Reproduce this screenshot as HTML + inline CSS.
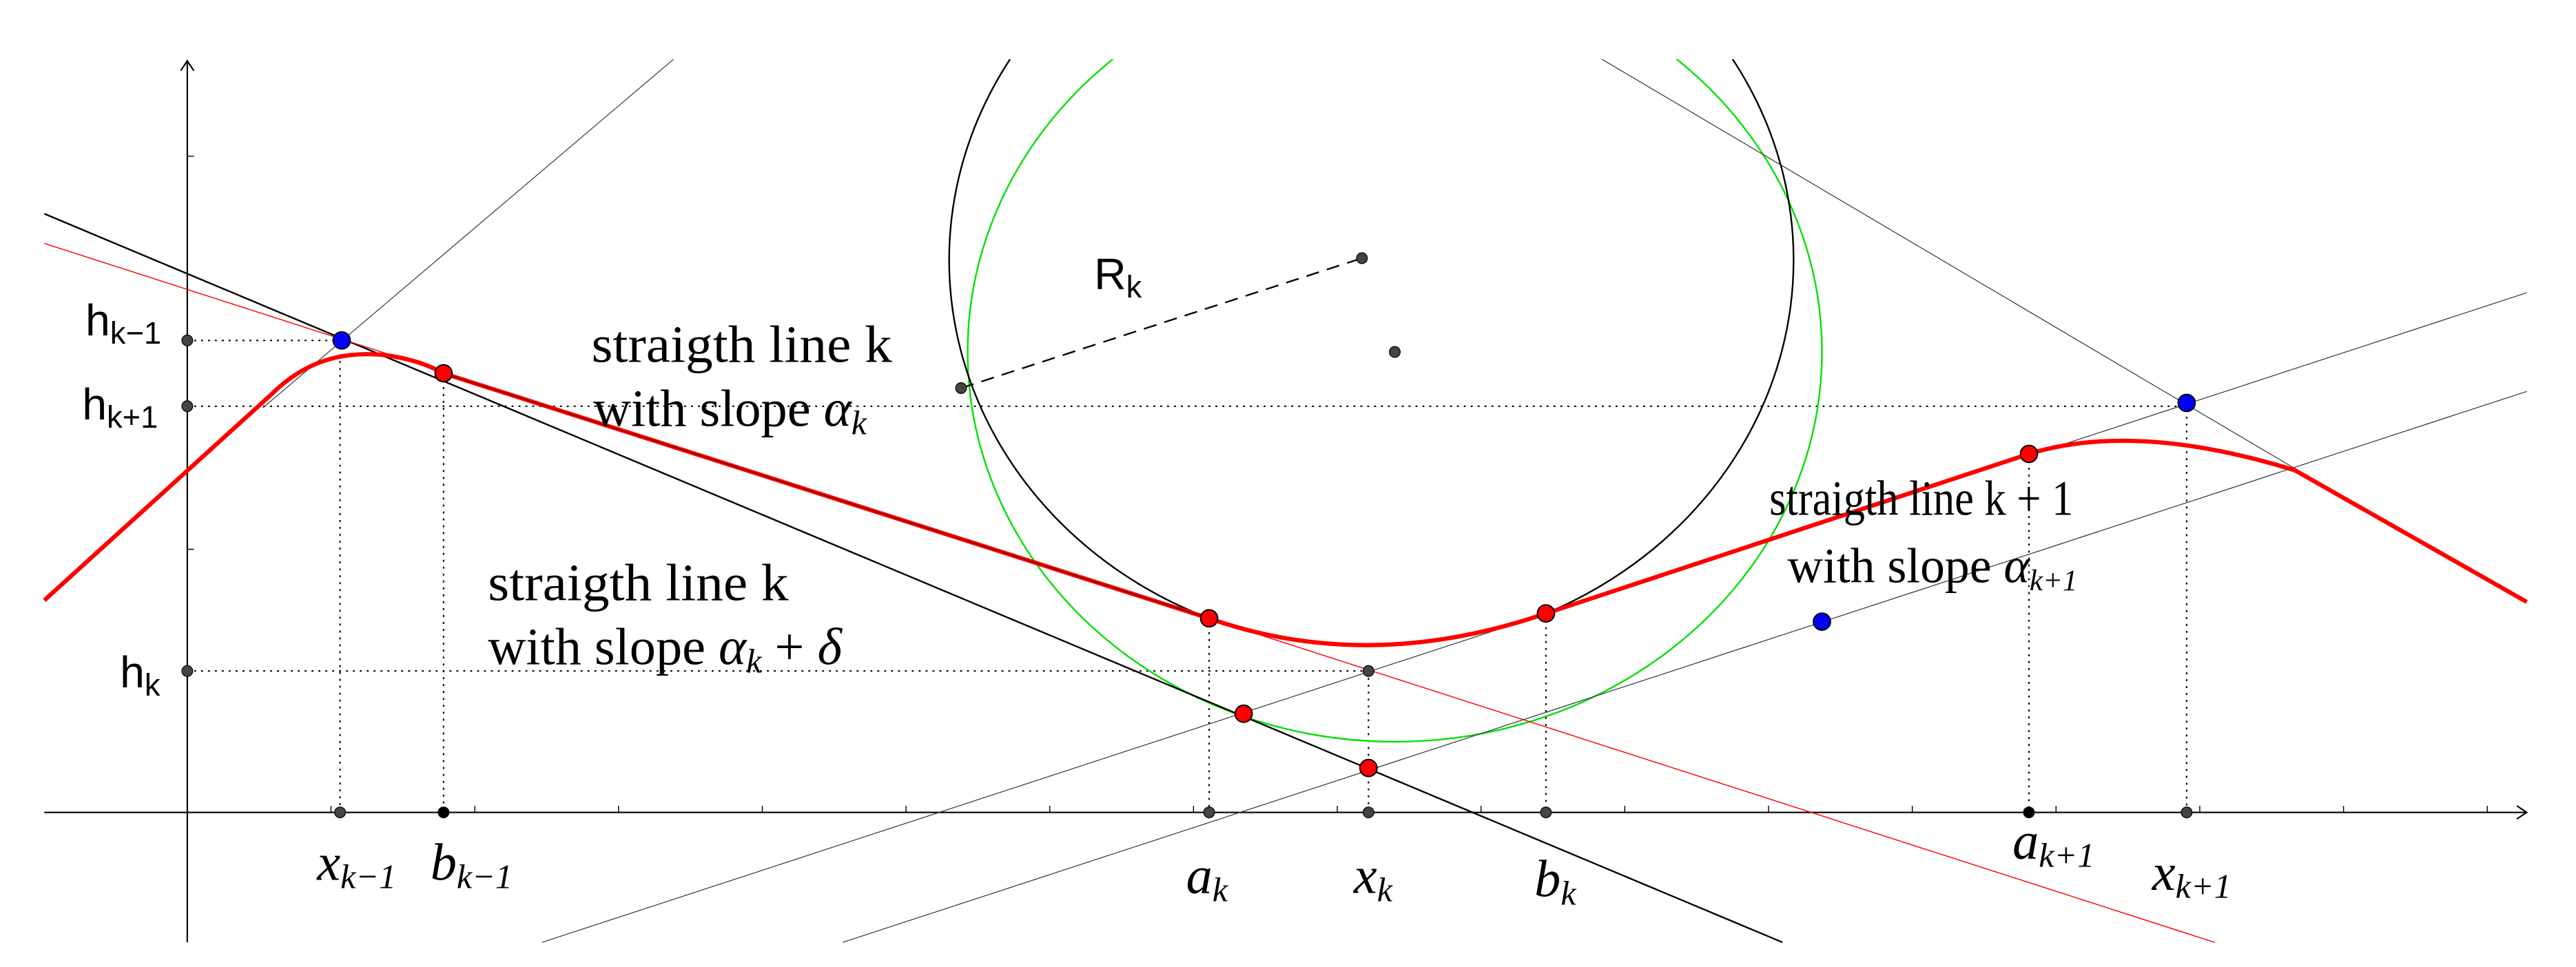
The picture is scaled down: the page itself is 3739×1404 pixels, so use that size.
<!DOCTYPE html>
<html><head><meta charset="utf-8"><style>
html,body{margin:0;padding:0;background:#fff;}
svg{display:block;}
.s{font-family:"Liberation Serif",serif;font-size:32px;}
.m{font-family:"Liberation Serif",serif;font-style:italic;font-size:32px;}
.sf{font-family:"Liberation Sans",sans-serif;font-size:27px;}
</style></head><body>
<svg width="3739" height="1404" viewBox="0 0 1568 588" preserveAspectRatio="none" xmlns="http://www.w3.org/2000/svg">
<defs><clipPath id="c"><rect x="0" y="36" width="1568" height="552"/></clipPath></defs>
<g stroke="#000" stroke-width="0.9" fill="none">
<line x1="27" y1="494" x2="1538" y2="494"/>
<polyline points="1532,490 1538,494 1532,498"/>
<line x1="114" y1="573" x2="114" y2="37"/>
<polyline points="110,43 114,37 118,43"/>
<g stroke-width="0.6">
<path d="M201.5 494v-4M289 494v-4M376.5 494v-4M464 494v-4M551.5 494v-4M639 494v-4M726.5 494v-4M814 494v-4M901.5 494v-4M989 494v-4M1076.5 494v-4M1164 494v-4M1251.5 494v-4M1339 494v-4M1426.5 494v-4M1514 494v-4"/>
<path d="M114 95h4M114 334h4"/>
</g>
</g>
<g stroke="#000" stroke-width="0.9" stroke-dasharray="1.2 3" fill="none">
<line x1="114" y1="207" x2="208" y2="207"/>
<line x1="114" y1="247" x2="1331" y2="247"/>
<line x1="114" y1="408" x2="833" y2="408"/>
<line x1="207" y1="207" x2="207" y2="494"/>
<line x1="270" y1="227" x2="270" y2="494"/>
<line x1="736" y1="376" x2="736" y2="494"/>
<line x1="833" y1="408" x2="833" y2="494"/>
<line x1="941" y1="373" x2="941" y2="494"/>
<line x1="1235" y1="276" x2="1235" y2="494"/>
<line x1="1331" y1="245" x2="1331" y2="494"/>
</g>
<g clip-path="url(#c)" fill="none">
<ellipse cx="849" cy="214" rx="260" ry="237" stroke="#00e000" stroke-width="1"/>
<path d="M736 376 A257 236 0 1 1 941 373" stroke="#000" stroke-width="1"/>
<line x1="27" y1="130" x2="1085" y2="573" stroke="#000" stroke-width="1"/>
<line x1="27" y1="148" x2="1348" y2="573" stroke="#f00" stroke-width="0.6"/>
<line x1="160" y1="248" x2="410" y2="36" stroke="#333" stroke-width="0.5"/>
<line x1="975" y1="36" x2="1397" y2="285" stroke="#333" stroke-width="0.5"/>
<line x1="330" y1="573" x2="1538" y2="178" stroke="#333" stroke-width="0.5"/>
<line x1="513" y1="573" x2="1538" y2="238" stroke="#333" stroke-width="0.5"/>
</g>
<line x1="585" y1="236" x2="829" y2="157" stroke="#000" stroke-width="1" stroke-dasharray="8 5"/>
<path d="M27 365 L165 240 C185 220 208 213 235 216 Q256 219 270 227 L736 376 Q833 410 941 373 L1235 276 Q1300 256 1397 286 L1538 366" fill="none" stroke="#f00" stroke-width="2.6" stroke-linejoin="round"/>
<line x1="270" y1="227" x2="736" y2="376" stroke="#600" stroke-width="0.6"/>
<g fill="#444" stroke="#000" stroke-width="0.5">
<circle cx="114" cy="207" r="3.3"/><circle cx="114" cy="247" r="3.3"/><circle cx="114" cy="408" r="3.3"/>
<circle cx="585" cy="236" r="3.3"/><circle cx="829" cy="157" r="3.3"/><circle cx="849" cy="214" r="3.3"/><circle cx="833" cy="408" r="3.3"/>
<circle cx="207" cy="494" r="3.3"/><circle cx="736" cy="494" r="3.3"/><circle cx="833" cy="494" r="3.3"/><circle cx="941" cy="494" r="3.3"/><circle cx="1331" cy="494" r="3.3"/>
<circle cx="270" cy="494" r="3.3" fill="#000"/><circle cx="1235" cy="494" r="3.3" fill="#000"/>
</g>
<g stroke="#000" stroke-width="0.8">
<circle cx="208" cy="207" r="5.2" fill="#00f"/>
<circle cx="1109" cy="378" r="5.2" fill="#00f"/>
<circle cx="1331" cy="245" r="5.2" fill="#00f"/>
<circle cx="270" cy="227" r="5.2" fill="#f00"/>
<circle cx="736" cy="376" r="5.2" fill="#f00"/>
<circle cx="757" cy="434" r="5.2" fill="#f00"/>
<circle cx="833" cy="467" r="5.2" fill="#f00"/>
<circle cx="941" cy="373" r="5.2" fill="#f00"/>
<circle cx="1235" cy="276" r="5.2" fill="#f00"/>
</g>
<g class="sf">
<text x="52" y="204">h<tspan font-size="19" dy="5">k−1</tspan></text>
<text x="50" y="255">h<tspan font-size="19" dy="5">k+1</tspan></text>
<text x="73" y="418">h<tspan font-size="19" dy="5">k</tspan></text>
<text x="666" y="176">R<tspan font-size="19" dy="5">k</tspan></text>
</g>
<g class="s">
<text x="360" y="220" textLength="183" lengthAdjust="spacingAndGlyphs">straigth line k</text>
<text x="361" y="259">with slope <tspan class="m">α</tspan><tspan class="m" style="font-size:21px" dy="5">k</tspan></text>
<text x="297" y="365" textLength="183" lengthAdjust="spacingAndGlyphs">straigth line k</text>
<text x="297" y="404">with slope <tspan class="m">α</tspan><tspan class="m" style="font-size:21px" dy="5">k</tspan><tspan dy="-5"> + </tspan><tspan class="m">δ</tspan></text>
<text x="1077" y="313" style="font-size:30px" textLength="185" lengthAdjust="spacingAndGlyphs">straigth line k + 1</text>
<text x="1088" y="354" style="font-size:30px">with slope <tspan class="m" style="font-size:30px">α</tspan><tspan class="m" style="font-size:18px" dy="5">k+1</tspan></text>
</g>
<g class="m">
<text x="193" y="535">x<tspan style="font-size:21px" dy="5">k−1</tspan></text>
<text x="262" y="535">b<tspan style="font-size:21px" dy="5">k−1</tspan></text>
<text x="722" y="543">a<tspan style="font-size:21px" dy="5">k</tspan></text>
<text x="824" y="543">x<tspan style="font-size:21px" dy="5">k</tspan></text>
<text x="934" y="545">b<tspan style="font-size:21px" dy="5">k</tspan></text>
<text x="1225" y="522">a<tspan style="font-size:21px" dy="5">k+1</tspan></text>
<text x="1310" y="541">x<tspan style="font-size:21px" dy="5">k+1</tspan></text>
</g>
</svg>
</body></html>
